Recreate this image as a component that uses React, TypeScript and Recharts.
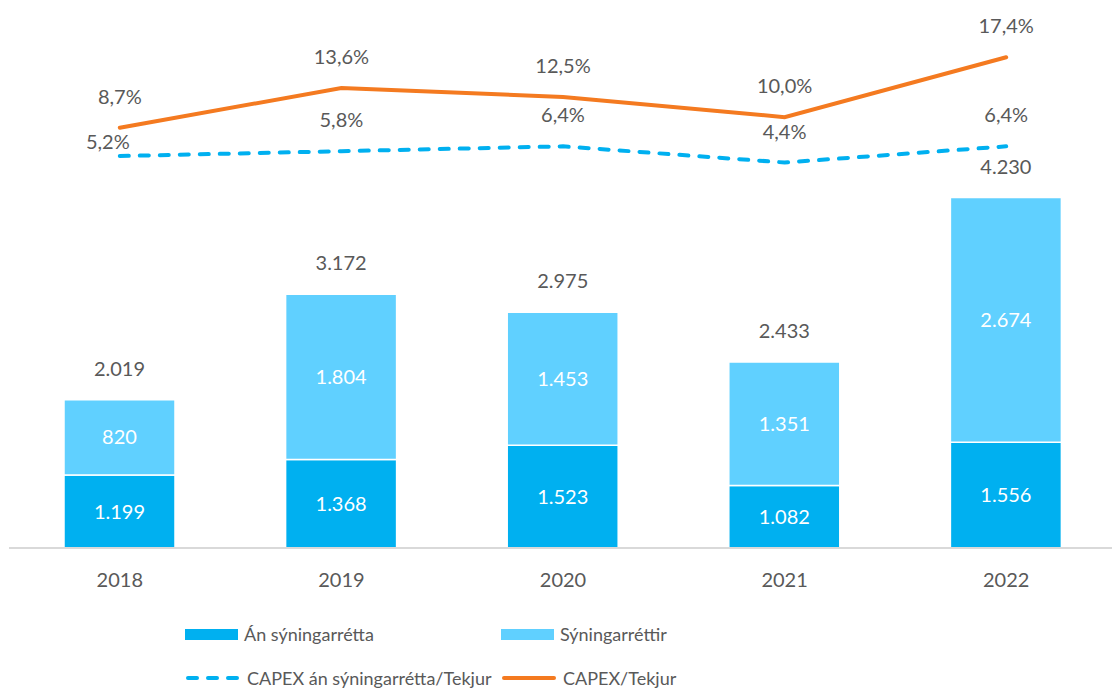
import { ComposedChart, Bar, Line, XAxis, YAxis, LabelList } from "recharts";

const years = ["2018", "2019", "2020", "2021", "2022"];
const anSyningarretta = [1199, 1368, 1523, 1082, 1556];
const syningarrettir = [820, 1804, 1453, 1351, 2674];
const totals = [2019, 3172, 2975, 2433, 4230];
const capexAnSyn = [5.2, 5.8, 6.4, 4.4, 6.4];
const capexTekjur = [8.7, 13.6, 12.5, 10.0, 17.4];

const DARK = "#00B0F0";
const LIGHT = "#60D0FF";
const ORANGE = "#F47A20";
const TEXT = "#595959";
const FONT = "Lato, 'Open Sans', sans-serif";

const fmtNum = (v: number) => String(v).replace(/\B(?=(\d{3})+(?!\d))/g, ".");
const fmtPct = (v: number) => v.toFixed(1).replace(".", ",") + "%";

const data = years.map((year, i) => ({
  year,
  an: anSyningarretta[i],
  syn: syningarrettir[i],
  total: totals[i],
  capexAn: capexAnSyn[i],
  capex: capexTekjur[i],
}));

const legendItems = [
  { name: "Án sýningarrétta", type: "bar", color: DARK },
  { name: "Sýningarréttir", type: "bar", color: LIGHT },
  { name: "CAPEX án sýningarrétta/Tekjur", type: "dash", color: DARK },
  { name: "CAPEX/Tekjur", type: "line", color: ORANGE },
];

const TotalLabel = (p: any) => (
  <text x={p.x + p.width / 2} y={p.y - 32} textAnchor="middle" dominantBaseline="central"
    fill={TEXT} fontSize={20} fontFamily={FONT}>{fmtNum(p.value)}</text>
);

const PctLabel = (shiftFirst: boolean) => (p: any) => {
  const first = shiftFirst && p.index === 0;
  return (
    <text x={p.x + (first ? -12 : 0)} y={p.y - (first ? 15 : 32)} textAnchor="middle"
      dominantBaseline="central" fill={TEXT} fontSize={20} fontFamily={FONT}>{fmtPct(p.value)}</text>
  );
};

function LegendIcon({ type, color }: { type: string; color: string }) {
  if (type === "bar") return <div style={{ width: 53, height: 11, background: color, flex: "none" }} />;
  return (
    <svg width={56} height={8} style={{ flex: "none" }}>
      <line x1={3} y1={4} x2={53} y2={4} stroke={color} strokeWidth={4} strokeLinecap="round"
        strokeDasharray={type === "dash" ? "9 11" : undefined} />
    </svg>
  );
}

export default function App() {
  return (
    <div style={{ position: "absolute", left: 0, top: 0, width: 1112, height: 690, overflow: "hidden", background: "#fff" }}>
      <ComposedChart width={1117} height={690} data={data} margin={{ top: 20, right: 0, left: 9, bottom: 82 }}>
        <XAxis dataKey="year" axisLine={{ stroke: "#D9D9D9", strokeWidth: 2 }} tickLine={false} height={60}
          tickMargin={19} tick={{ fill: TEXT, fontSize: 20, fontFamily: FONT }} />
        <YAxis yAxisId="bar" hide domain={[400, 6170]} allowDataOverflow />
        <YAxis yAxisId="pct" hide orientation="right" domain={[-43.2, 22]} allowDataOverflow />
        <Bar yAxisId="bar" dataKey="an" stackId="a" fill={DARK} stroke="#fff" strokeWidth={1.5} barSize={111} isAnimationActive={false}>
          <LabelList dataKey="an" position="center" fill="#fff" fontSize={20} fontFamily={FONT} formatter={(v: any) => fmtNum(v)} />
        </Bar>
        <Bar yAxisId="bar" dataKey="syn" stackId="a" fill={LIGHT} stroke="#fff" strokeWidth={1.5} barSize={111} isAnimationActive={false}>
          <LabelList dataKey="syn" position="center" fill="#fff" fontSize={20} fontFamily={FONT} formatter={(v: any) => fmtNum(v)} />
          <LabelList dataKey="total" content={TotalLabel} />
        </Bar>
        <Line yAxisId="pct" dataKey="capexAn" stroke={DARK} strokeWidth={4} strokeDasharray="9 11" strokeLinecap="round"
          dot={false} isAnimationActive={false}>
          <LabelList dataKey="capexAn" content={PctLabel(true)} />
        </Line>
        <Line yAxisId="pct" dataKey="capex" stroke={ORANGE} strokeWidth={4} strokeLinecap="round"
          dot={false} isAnimationActive={false}>
          <LabelList dataKey="capex" content={PctLabel(false)} />
        </Line>
      </ComposedChart>
      <div style={{ position: "absolute", left: 185, top: 612, display: "grid", gridTemplateColumns: "316px 316px", gridAutoRows: "44px" }}>
        {legendItems.map((it) => (
          <div key={it.name} style={{ display: "flex", alignItems: "center", gap: 6, fontFamily: FONT, fontSize: 18, color: TEXT, whiteSpace: "nowrap" }}>
            <LegendIcon type={it.type} color={it.color} />
            <span>{it.name}</span>
          </div>
        ))}
      </div>
    </div>
  );
}
